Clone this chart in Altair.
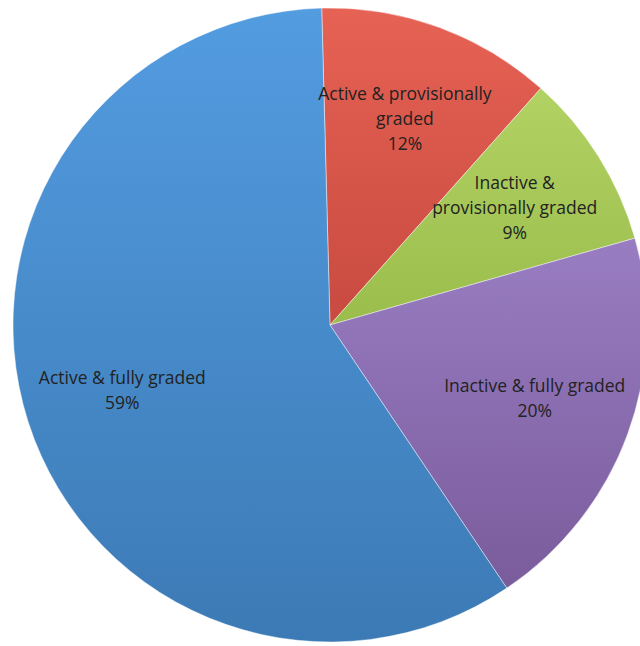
import math
import altair as alt
import pandas as pd

categories = [
    "Active & provisionally graded",
    "Inactive & provisionally graded",
    "Inactive & fully graded",
    "Active & fully graded",
]
label_lines = [
    ["Active & provisionally", "graded"],
    ["Inactive &", "provisionally graded"],
    ["Inactive & fully graded"],
    ["Active & fully graded"],
]
values = [12, 9, 20, 59]

# style (not data)
grad_colors = [
    ("#E66254", "#C84A40"),
    ("#B2D263", "#9ABD4C"),
    ("#997DC2", "#7A5C9C"),
    ("#539CE0", "#3C7AB5"),
]
LINE_H = 25

df = pd.DataFrame({
    "category": categories,
    "value": values,
    "order": list(range(len(categories))),
    "nlines": [len(l) + 1 for l in label_lines],
    "label": ["\n".join(l + [f"{v}%"]) for l, v in zip(label_lines, values)],
})

start = math.radians(-1.5)
theta_scale = alt.Scale(domain=[0, 100], range=[start, start + 2 * math.pi])

base = alt.Chart(df).transform_stack(
    stack="value", as_=["v0", "v1"], groupby=[], sort=[alt.SortField("order")]
).transform_calculate(mid="(datum.v0 + datum.v1) / 2")

layers = []
for i, (c1, c2) in enumerate(grad_colors):
    grad = alt.Gradient(
        gradient="linear",
        x1=0, x2=0, y1=0, y2=1,
        stops=[alt.GradientStop(color=c1, offset=0), alt.GradientStop(color=c2, offset=1)],
    )
    layers.append(
        base.transform_filter(alt.datum.order == i)
        .mark_arc(radius=317, fill=grad, stroke="#ffffff", strokeWidth=0.8, strokeOpacity=0.55)
        .encode(
            theta=alt.Theta("v0:Q", scale=theta_scale, stack=None),
            theta2="v1:Q",
        )
    )

# labels: centre each multi-line block on the slice's mid-angle
for n in sorted(set(df["nlines"])):
    layers.append(
        base.transform_filter(alt.datum.nlines == int(n)).mark_text(
            radius=218, lineBreak="\n", font="Open Sans", fontSize=17.5,
            lineHeight=LINE_H, color="#222222", align="center", baseline="middle",
            dy=-(int(n) - 1) * LINE_H / 2,
        ).encode(
            theta=alt.Theta("mid:Q", scale=theta_scale, stack=None),
            text="label:N",
        )
    )

chart = alt.layer(*layers).properties(
    width=620, height=640,
    autosize=alt.AutoSizeParams(type="none"),
    padding={"left": 20, "top": 5, "right": 0, "bottom": 1},
).configure_view(strokeWidth=0)

chart.save("out.html", embed_options={"renderer": "svg", "actions": False})
